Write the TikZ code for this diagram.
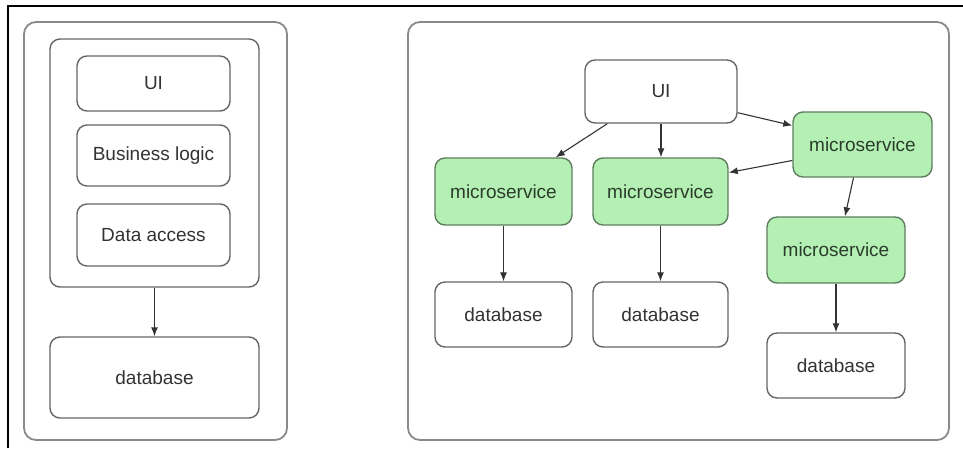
\documentclass[tikz,border=0pt]{standalone}
\usepackage{fontspec}
\setmainfont{Liberation Sans}
\usetikzlibrary{arrows.meta}
\definecolor{verdems}{HTML}{B4F0B4}
\definecolor{bordems}{HTML}{5E7D5E}
\definecolor{textoms}{HTML}{2C3C2C}
\definecolor{gris}{HTML}{666666}
\definecolor{grispanel}{HTML}{8A8A8A}
\tikzset{
  caja/.style={draw=gris,line width=1.4pt,rounded corners=10pt,fill=white,text=black!80,
    font=\fontsize{19}{23}\selectfont,inner sep=0pt},
  ms/.style={caja,draw=bordems,fill=verdems,text=textoms},
  panel/.style={draw=grispanel,line width=1.8pt,rounded corners=12pt,inner sep=0pt},
  flecha/.style={->,draw=black!80,line width=1.1pt}
}

\begin{document}
\begin{tikzpicture}[x=1pt,y=-1pt,>={Latex[length=9pt,width=7pt]}]
  \useasboundingbox (0,0) rectangle (963,448);
  % marco
  \draw[line width=2.2pt] (8,448)--(8,6)--(963,6);
  % monolito
  \node[panel,minimum width=263pt,minimum height=418pt] (mono) at (155.5,231) {};
  \node[caja,minimum width=209pt,minimum height=248pt] (app) at (154.5,163) {};
  \node[caja,minimum width=153pt,minimum height=55pt] (ui) at (153.5,83.5) {UI};
  \node[caja,minimum width=153pt,minimum height=61pt] (logica) at (153.5,155.5) {Business logic};
  \node[caja,minimum width=153pt,minimum height=62pt] (datos) at (153.5,235) {Data access};
  \node[caja,minimum width=209pt,minimum height=81pt] (db) at (154.5,377.5) {database};
  \draw[flecha] (app.south)--(db.north);
  % microservicios
  \node[panel,minimum width=541pt,minimum height=418pt] (micro) at (678.5,231) {};
  \node[caja,minimum width=152pt,minimum height=63pt] (uiB) at (661,91.5) {UI};
  \node[ms,minimum width=137pt,minimum height=67pt] (msA) at (503.5,191.5) {microservice};
  \node[ms,minimum width=135pt,minimum height=67pt] (msB) at (660.5,191.5) {microservice};
  \node[ms,minimum width=139pt,minimum height=65pt] (msC) at (862.5,144.5) {microservice};
  \node[ms,minimum width=138pt,minimum height=66pt] (msD) at (836,250) {microservice};
  \node[caja,minimum width=137pt,minimum height=65pt] (dbA) at (503.5,314.5) {database};
  \node[caja,minimum width=135pt,minimum height=65pt] (dbB) at (660.5,314.5) {database};
  \node[caja,minimum width=138pt,minimum height=65pt] (dbD) at (836,365.5) {database};
  \draw[flecha] ([xshift=23pt]uiB.south west)--([xshift=-17pt]msA.north east);
  \draw[flecha] (uiB.south)--(uiB.south |- msB.north);
  \draw[flecha] ([yshift=11pt]uiB.south east)--([yshift=19pt]msC.west);
  \draw[flecha] ([yshift=-16pt]msC.west)--([yshift=19pt]msB.east);
  \draw[flecha] ([xshift=-9pt]msC.south)--([xshift=9pt]msD.north);
  \draw[flecha] (msA.south)--(dbA.north);
  \draw[flecha] (msB.south)--(dbB.north);
  \draw[flecha] (msD.south)--(dbD.north);
\end{tikzpicture}
\end{document}
